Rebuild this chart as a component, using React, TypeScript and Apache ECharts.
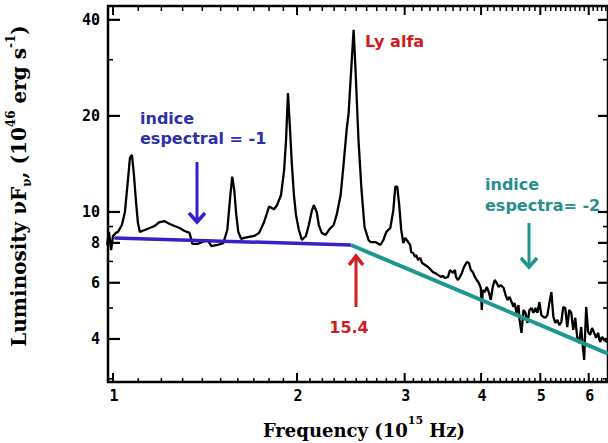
import React, { useEffect, useRef } from 'react';
import * as echarts from 'echarts';

// Spectrum: [frequency (1e15 Hz), luminosity nuF_nu (1e46 erg/s)]
const spectrum: [number, number][] = [
  [0.978, 7.88], [0.985, 8.66], [0.993, 7.6], [1.0, 8.41], [1.011, 8.6], [1.019, 8.66],
  [1.034, 9.1], [1.046, 10.0], [1.058, 12.6], [1.066, 14.8], [1.074, 15.1], [1.082, 13.1],
  [1.09, 10.9], [1.098, 9.3], [1.106, 8.66], [1.127, 8.78], [1.148, 8.91], [1.17, 9.04],
  [1.192, 9.3], [1.215, 9.36], [1.238, 9.17], [1.261, 9.04], [1.285, 8.91], [1.31, 8.72],
  [1.334, 8.6], [1.349, 7.94], [1.375, 7.94], [1.401, 8.05], [1.427, 8.17], [1.449, 7.82],
  [1.482, 7.88], [1.515, 7.99], [1.538, 8.78], [1.556, 11.3], [1.567, 12.9], [1.579, 11.7],
  [1.591, 9.79], [1.603, 8.66], [1.621, 8.23], [1.639, 8.29], [1.67, 8.35], [1.702, 8.41],
  [1.734, 8.6], [1.767, 9.3], [1.8, 10.4], [1.834, 10.2], [1.855, 10.5], [1.883, 11.3],
  [1.905, 13.5], [1.919, 16.8], [1.933, 23.6], [1.948, 18.1], [1.962, 14.0], [1.977, 11.3],
  [1.992, 9.79], [2.014, 8.78], [2.037, 8.17], [2.068, 8.41], [2.091, 9.1], [2.115, 10.1],
  [2.131, 10.5], [2.154, 10.0], [2.171, 9.1], [2.195, 8.6], [2.228, 8.47], [2.262, 8.85],
  [2.296, 9.1], [2.322, 9.79], [2.357, 11.3], [2.384, 14.2], [2.411, 18.1], [2.429, 20.4],
  [2.447, 25.9], [2.475, 37.2], [2.493, 27.9], [2.521, 16.8], [2.55, 11.7], [2.579, 8.97],
  [2.618, 8.17], [2.637, 8.05], [2.687, 8.05], [2.738, 7.88], [2.769, 8.17], [2.8, 8.66],
  [2.842, 8.91], [2.874, 10.1], [2.896, 12.0], [2.917, 12.0], [2.939, 10.5], [2.961, 8.8],
  [2.984, 7.99], [3.006, 8.29], [3.04, 8.05], [3.063, 7.88], [3.074, 7.49], [3.097, 7.44],
  [3.121, 7.23], [3.132, 7.33], [3.156, 7.07], [3.18, 7.18], [3.204, 6.92], [3.24, 6.82],
  [3.276, 6.72], [3.313, 6.58], [3.338, 6.48], [3.363, 6.44], [3.401, 6.35], [3.439, 6.26],
  [3.465, 6.3], [3.491, 6.21], [3.532, 6.26], [3.558, 6.58], [3.598, 6.44], [3.625, 6.58],
  [3.639, 6.26], [3.667, 6.12], [3.694, 6.26], [3.722, 6.44], [3.75, 6.72], [3.792, 6.97],
  [3.821, 6.92], [3.849, 6.58], [3.878, 6.48], [3.907, 6.26], [3.936, 6.12], [3.966, 5.99],
  [3.996, 5.78], [4.011, 4.93], [4.026, 5.69], [4.056, 5.61], [4.087, 5.82], [4.118, 5.61],
  [4.149, 5.3], [4.18, 5.82], [4.211, 6.12], [4.243, 5.99], [4.274, 5.82], [4.306, 5.9],
  [4.355, 5.78], [4.387, 5.49], [4.421, 5.3], [4.454, 5.42], [4.487, 5.22], [4.521, 5.04],
  [4.538, 5.19], [4.572, 4.83], [4.606, 5.11], [4.624, 4.59], [4.658, 4.18], [4.693, 4.93],
  [4.728, 4.83], [4.764, 4.49], [4.8, 4.93], [4.836, 5.0], [4.872, 4.83], [4.909, 5.0],
  [4.946, 4.83], [4.983, 5.22], [5.02, 4.75], [5.058, 4.69], [5.097, 4.66], [5.135, 4.75],
  [5.174, 5.19], [5.213, 5.61], [5.252, 4.69], [5.291, 4.49], [5.331, 4.59], [5.371, 4.42],
  [5.411, 4.52], [5.452, 5.04], [5.493, 5.0], [5.534, 4.36], [5.576, 4.93], [5.618, 4.83],
  [5.66, 4.27], [5.703, 4.66], [5.745, 4.06], [5.789, 3.88], [5.832, 4.36], [5.876, 3.69],
  [5.898, 3.44], [5.943, 5.04], [5.987, 4.21], [6.032, 4.12], [6.077, 4.33], [6.124, 4.18],
  [6.17, 4.03], [6.216, 4.18], [6.263, 3.91], [6.31, 4.06], [6.358, 3.97], [6.45, 3.9],
];

const blueFit: [number, number][] = [[1.005, 8.29], [2.45, 7.88]];
const tealFit: [number, number][] = [[2.45, 7.88], [6.45, 3.6]];

const xMin = 0.9814;
const xMax = 6.452;
const yMin = 2.932;
const yMax = 44.2;

const xMajorTicks = [1, 2, 3, 4, 5, 6];
const xTickLabels = ['1', '2', '3', '4', '5', '6'];
const xMinorTicks = [
  1.1, 1.2, 1.3, 1.4, 1.5, 1.6, 1.7, 1.8, 1.9,
  2.1, 2.2, 2.3, 2.4, 2.5, 2.6, 2.7, 2.8, 2.9,
  3.1, 3.2, 3.3, 3.4, 3.5, 3.6, 3.7, 3.8, 3.9,
  4.1, 4.2, 4.3, 4.4, 4.5, 4.6, 4.7, 4.8, 4.9,
  5.1, 5.2, 5.3, 5.4, 5.5, 5.6, 5.7, 5.8, 5.9,
  6.1, 6.2, 6.3, 6.4,
];
const yMajorTicks = [4, 6, 8, 10, 20, 40];
const yTickLabels = ['4', '6', '8', '10', '20', '40'];
const yMinorTicks = [3, 5, 7, 9, 30];

const tickFont = 'bold 15px "DejaVu Sans Mono"';
const annoFont = 'bold 16px "DejaVu Sans"';

export default function App() {
  const ref = useRef<HTMLDivElement>(null);
  useEffect(() => {
    if (!ref.current) return;
    const chart = echarts.init(ref.current, null, { renderer: 'svg' });

    const xTickData = [
      ...xMajorTicks.map((v, i) => [v, yMin, 1, i]),
      ...xMinorTicks.map((v) => [v, yMin, 0, -1]),
    ];
    const yTickData = [
      ...yMajorTicks.map((v, i) => [xMin, v, 1, i]),
      ...yMinorTicks.map((v) => [xMin, v, 0, -1]),
    ];

    const blue = '#3422c8';
    const blueText = '#2e30a8';
    const teal = '#1f9690';
    const tealText = '#25908c';
    const red = '#d21c1f';

    const option: any = {
      animation: false,
      backgroundColor: '#ffffff',
      grid: {
        left: 108, right: -3, top: 6, bottom: 61,
        show: true, borderColor: '#000', borderWidth: 2.5, backgroundColor: 'transparent',
      },
      xAxis: {
        type: 'log', logBase: 10, min: xMin, max: xMax,
        axisLine: { show: false }, axisTick: { show: false },
        axisLabel: { show: false }, splitLine: { show: false },
      },
      yAxis: {
        type: 'log', logBase: 10, min: yMin, max: yMax,
        axisLine: { show: false }, axisTick: { show: false },
        axisLabel: { show: false }, splitLine: { show: false },
      },
      series: [
        {
          type: 'line', data: spectrum, showSymbol: false, clip: true,
          lineStyle: { color: '#000', width: 2.3 }, z: 2,
        },
        {
          type: 'line', data: blueFit, showSymbol: false, clip: true,
          lineStyle: { color: blue, width: 3.5 }, z: 3,
        },
        {
          type: 'line', data: tealFit, showSymbol: false, clip: true,
          lineStyle: { color: teal, width: 4 }, z: 3,
        },
        {
          type: 'custom', data: xTickData, encode: { x: 0, y: 1 }, z: 5, clip: false,
          renderItem: (params: any, api: any) => {
            const v = api.value(0);
            const major = api.value(2) === 1;
            const idx = api.value(3);
            const b = api.coord([v, yMin]);
            const t = api.coord([v, yMax]);
            const lw = major ? 2 : 1.5;
            const children: any[] = [
              { type: 'line', shape: { x1: b[0], y1: b[1], x2: b[0], y2: b[1] - (major ? 9 : 4) }, style: { stroke: '#000', lineWidth: lw } },
              { type: 'line', shape: { x1: t[0], y1: t[1], x2: t[0], y2: t[1] + (major ? 9 : 5) }, style: { stroke: '#000', lineWidth: lw } },
            ];
            if (major) {
              children.push({
                type: 'text', x: b[0] + 1, y: b[1] + 14,
                style: { text: xTickLabels[idx], font: tickFont, fill: '#000', align: 'center', verticalAlign: 'middle', textAlign: 'center', textVerticalAlign: 'middle' },
              });
            }
            return { type: 'group', children };
          },
        },
        {
          type: 'custom', data: yTickData, encode: { x: 0, y: 1 }, z: 5, clip: false,
          renderItem: (params: any, api: any) => {
            const v = api.value(1);
            const major = api.value(2) === 1;
            const idx = api.value(3);
            const l = api.coord([xMin, v]);
            const r = api.coord([xMax, v]);
            const lw = major ? 2.2 : 1.6;
            const children: any[] = [
              { type: 'line', shape: { x1: l[0], y1: l[1], x2: l[0] + (major ? 12 : 5), y2: l[1] }, style: { stroke: '#000', lineWidth: lw } },
              { type: 'line', shape: { x1: r[0], y1: r[1], x2: r[0] - (major ? 10 : 5), y2: r[1] }, style: { stroke: '#000', lineWidth: lw } },
            ];
            if (major) {
              children.push({
                type: 'text', x: l[0] - 8, y: l[1],
                style: { text: yTickLabels[idx], font: tickFont, fill: '#000', align: 'right', verticalAlign: 'middle', textAlign: 'right', textVerticalAlign: 'middle' },
              });
            }
            return { type: 'group', children };
          },
        },
      ],
      graphic: [
        // x axis title
        {
          type: 'text', x: 364, y: 427, z: 10,
          style: {
            text: '{m|Frequency (10}{s|15}{m| Hz)}',
            rich: {
              m: { fontSize: 18, fontWeight: 'bold', fontFamily: 'DejaVu Serif', lineHeight: 24, verticalAlign: 'bottom', fill: '#000' },
              s: { fontSize: 11, fontWeight: 'bold', fontFamily: 'DejaVu Serif', lineHeight: 12, verticalAlign: 'top', fill: '#000' },
            },
            align: 'center', verticalAlign: 'middle', textAlign: 'center', textVerticalAlign: 'middle',
          },
        },
        // y axis title
        {
          type: 'text', x: 19, y: 186, rotation: Math.PI / 2, z: 10,
          style: {
            text: '{m|Luminosity \u03bdF}{b|\u03bd}{m|, (10}{s|46}{m| erg s}{s|-1}{m|)}',
            rich: {
              m: { fontSize: 20, fontWeight: 'bold', fontFamily: 'DejaVu Serif', lineHeight: 28, verticalAlign: 'middle', fill: '#000' },
              s: { fontSize: 12, fontWeight: 'bold', fontFamily: 'DejaVu Serif', lineHeight: 13, verticalAlign: 'top', fill: '#000' },
              b: { fontSize: 12, fontWeight: 'bold', fontFamily: 'DejaVu Serif', lineHeight: 13, verticalAlign: 'bottom', fill: '#000' },
            },
            align: 'center', verticalAlign: 'middle', textAlign: 'center', textVerticalAlign: 'middle',
          },
        },
        // annotations
        { type: 'text', x: 140, y: 118, z: 10, style: { text: 'indice', font: annoFont, fill: blueText, align: 'left', verticalAlign: 'middle', textAlign: 'left', textVerticalAlign: 'middle' } },
        { type: 'text', x: 140, y: 138, z: 10, style: { text: 'espectral = -1', font: annoFont, fill: blueText, align: 'left', verticalAlign: 'middle', textAlign: 'left', textVerticalAlign: 'middle' } },
        { type: 'text', x: 365, y: 41, z: 10, style: { text: 'Ly alfa', font: annoFont, fill: red, align: 'left', verticalAlign: 'middle', textAlign: 'left', textVerticalAlign: 'middle' } },
        { type: 'text', x: 349, y: 327, z: 10, style: { text: '15.4', font: annoFont, fill: red, align: 'center', verticalAlign: 'middle', textAlign: 'center', textVerticalAlign: 'middle' } },
        { type: 'text', x: 485, y: 184, z: 10, style: { text: 'indice', font: annoFont, fill: tealText, align: 'left', verticalAlign: 'middle', textAlign: 'left', textVerticalAlign: 'middle' } },
        { type: 'text', x: 485, y: 205, z: 10, style: { text: 'espectra= -2', font: annoFont, fill: tealText, align: 'left', verticalAlign: 'middle', textAlign: 'left', textVerticalAlign: 'middle' } },
        // arrows
        { type: 'line', z: 10, shape: { x1: 197, y1: 162, x2: 197, y2: 221 }, style: { stroke: blue, lineWidth: 3 } },
        { type: 'polyline', z: 10, shape: { points: [[189, 213], [197, 222], [205, 213]] }, style: { stroke: blue, lineWidth: 3.5, fill: 'none' } },
        { type: 'line', z: 10, shape: { x1: 356, y1: 258, x2: 356, y2: 307 }, style: { stroke: red, lineWidth: 3 } },
        { type: 'polyline', z: 10, shape: { points: [[349, 265], [356, 256], [363, 265]] }, style: { stroke: red, lineWidth: 3.5, fill: 'none' } },
        { type: 'line', z: 10, shape: { x1: 529, y1: 223, x2: 529, y2: 266 }, style: { stroke: teal, lineWidth: 3 } },
        { type: 'polyline', z: 10, shape: { points: [[521, 258], [529, 267], [537, 258]] }, style: { stroke: teal, lineWidth: 3.5, fill: 'none' } },
      ],
    };
    chart.setOption(option);
    return () => chart.dispose();
  }, []);

  return (
    <div
      ref={ref}
      style={{ position: 'fixed', left: 0, top: 0, width: 608, height: 443, background: '#fff' }}
    />
  );
}
